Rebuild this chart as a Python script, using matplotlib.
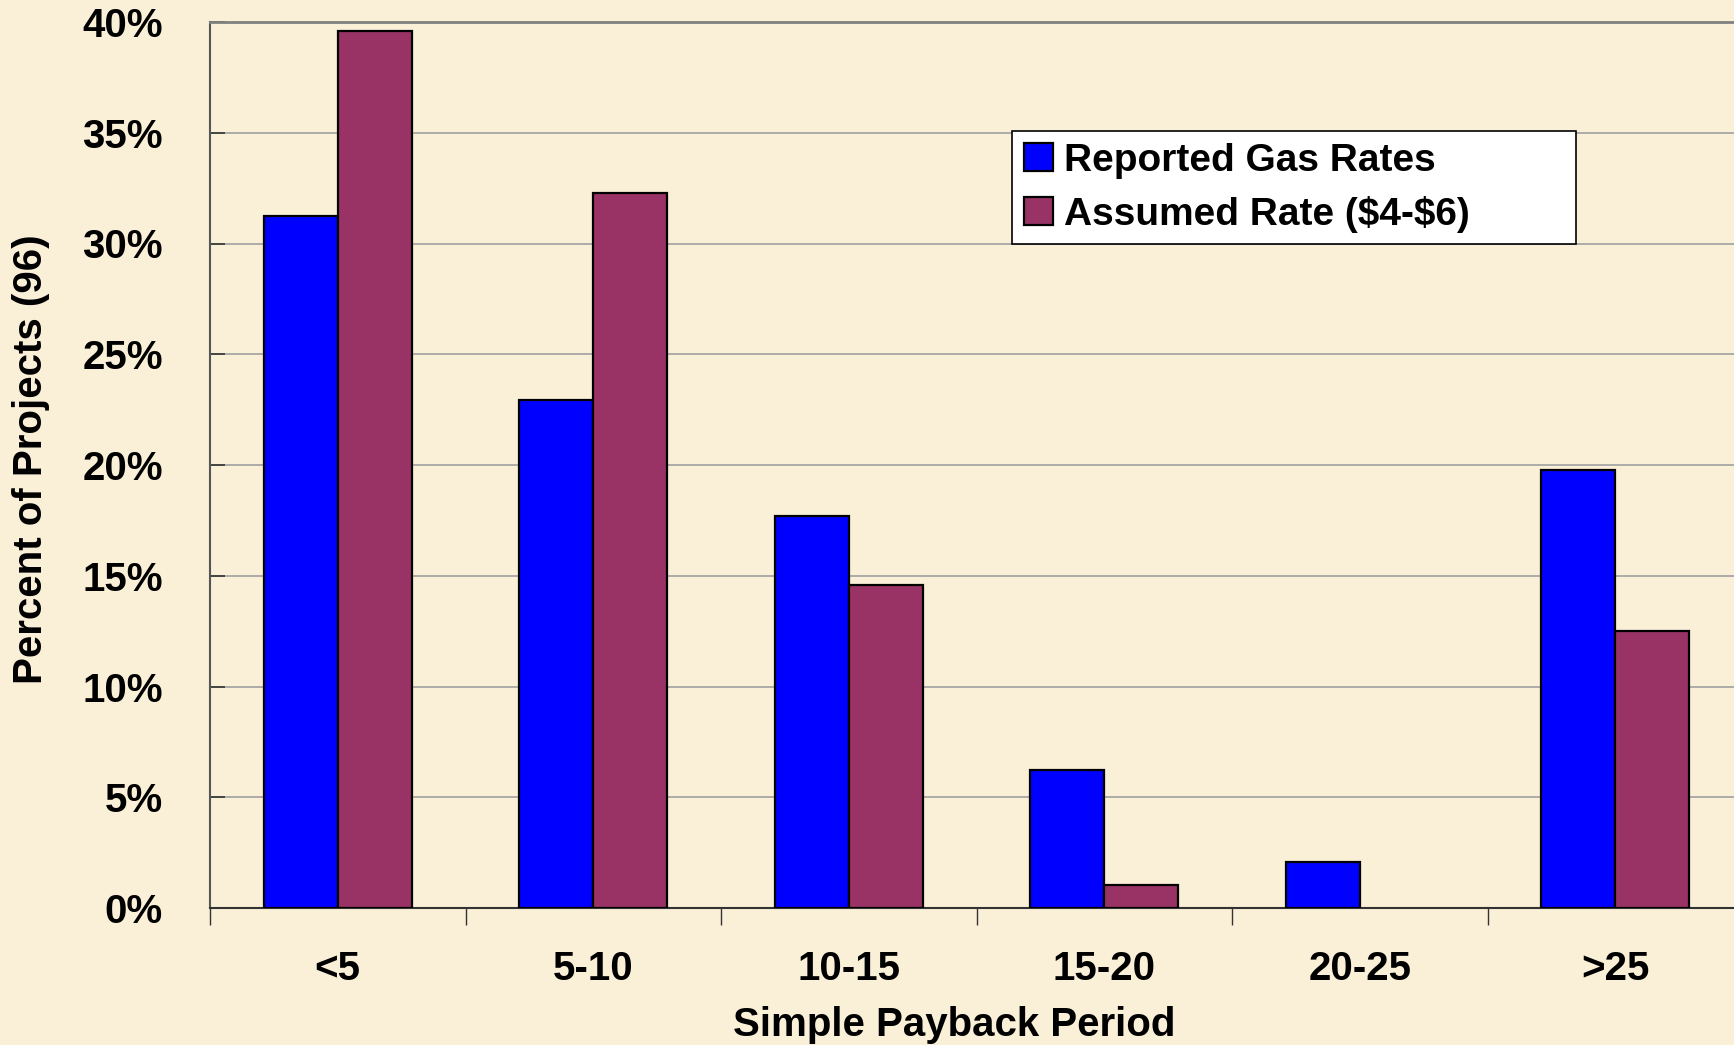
import numpy as np
import matplotlib
matplotlib.use('Agg')
from matplotlib import pyplot as plt
from matplotlib.ticker import FixedLocator, NullFormatter

# payback periods (years)
categories = ['<5', '5-10', '10-15', '15-20', '20-25', '>25']
# percent of 96 projects
reported = [31.25, 22.92, 17.71, 6.25, 2.08, 19.79]
assumed = [39.58, 32.29, 14.58, 1.04, 0.0, 12.5]
series_names = ['Reported Gas Rates', r'Assumed Rate (\$4-\$6)']

plt.rcParams['font.family'] = ['Liberation Sans', 'DejaVu Sans']
plt.rcParams['font.weight'] = 'bold'

bg = '#FAEFD7'
fig = plt.figure(figsize=(17.34, 10.45), dpi=100, facecolor=bg)
ax = fig.add_axes([210/1734, 1-908/1045, 1533/1734, 886/1045])
ax.set_facecolor(bg)

x = np.arange(len(categories))
w = 0.29
# no outline on empty bars
lw_rep = [1.6 if v > 0 else 0 for v in reported]
lw_ass = [1.6 if v > 0 else 0 for v in assumed]
ax.bar(x - w/2, reported, w, color='#0000FF', edgecolor='black', linewidth=lw_rep, label=series_names[0], zorder=3)
ax.bar(x + w/2, assumed, w, color='#993366', edgecolor='black', linewidth=lw_ass, label=series_names[1], zorder=3)

ax.set_xlim(-0.5, len(categories) - 0.5)
ax.set_ylim(0, 40)

# y axis
ax.set_yticks(np.arange(0, 41, 5))
ax.set_yticklabels([f'{v}%' for v in range(0, 41, 5)])
ax.yaxis.grid(True, color='#A0A0A0', linewidth=1.2, zorder=0)
ax.tick_params(axis='y', direction='in', length=11, width=1.2, color='#333333', labelsize=29, pad=34)

# x axis: ticks at boundaries, labels at centers
ax.xaxis.set_major_locator(FixedLocator(np.arange(-0.5, len(categories), 1.0)))
ax.xaxis.set_major_formatter(NullFormatter())
ax.xaxis.set_minor_locator(FixedLocator(x))
ax.set_xticklabels(categories, minor=True)
ax.tick_params(axis='x', which='major', direction='out', length=12, width=1.0, color='#333333')
ax.tick_params(axis='x', which='minor', length=0, labelsize=29, pad=30)

for side in ['top', 'right']:
    ax.spines[side].set_color('#808080')
    ax.spines[side].set_linewidth(2)
ax.spines['left'].set_color('#555555')
ax.spines['left'].set_linewidth(1.5)
ax.spines['bottom'].set_color('#333333')
ax.spines['bottom'].set_linewidth(1.5)

for lab in ax.get_yticklabels() + ax.get_xticklabels(minor=True):
    lab.set_fontweight('bold')

fig.text(954/1734, 1 - 1025/1045, 'Simple Payback Period', ha='center', va='center',
         fontsize=29, fontweight='bold')
fig.text(31/1734, 1 - 459/1045, 'Percent of Projects (96)', ha='center', va='center',
         rotation=90, fontsize=29, fontweight='bold')

lx0 = (1012-210)/1533
lx1 = (1576-210)/1533
ly1 = (908-131)/886
leg = ax.legend(loc='upper left', bbox_to_anchor=(lx0, ly1 - 0.2, lx1 - lx0, 0.2), mode='expand',
                borderaxespad=0, fancybox=False, framealpha=1, edgecolor='black',
                prop={'size': 28, 'weight': 'bold'}, handlelength=0.75, handleheight=0.75,
                handletextpad=0.3, labelspacing=0.44, borderpad=0.3)
leg.get_frame().set_linewidth(1.2)

fig.savefig('out.png', dpi=100, facecolor=bg)
